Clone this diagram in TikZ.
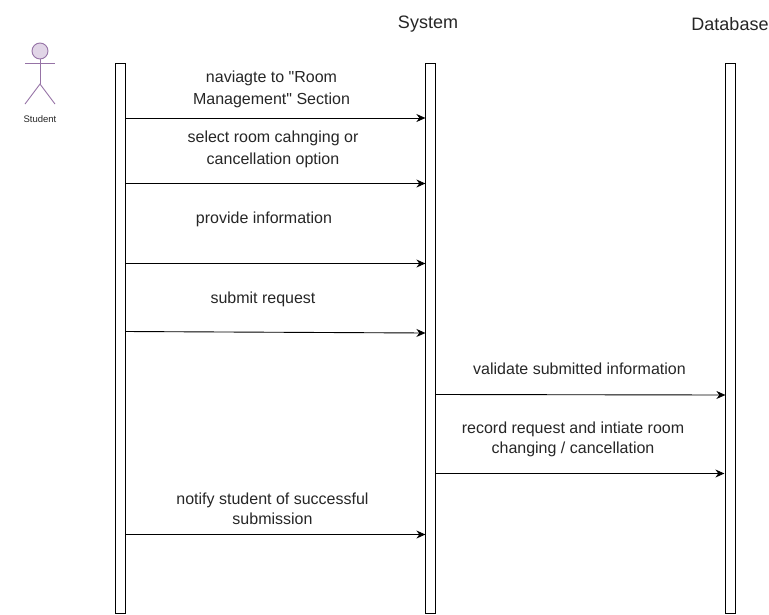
\documentclass[tikz,border=0pt]{standalone}
\usepackage{fontspec}
\setmainfont[Ligatures=TeXOff]{Liberation Sans}
\usetikzlibrary{arrows.meta}
\definecolor{actorfill}{HTML}{E1D5E7}
\definecolor{actorline}{HTML}{9673A6}
\tikzset{
  lifebar/.style={draw, line width=.9pt, minimum width=10pt, minimum height=550pt, inner sep=0pt, outer sep=0pt},
  msg/.style={draw, line width=.9pt, -{Stealth[length=9pt,width=8pt]}},
  msglabel/.style={align=center, font=\fontsize{16}{20.5}\selectfont, inner sep=0pt, text=black!85},
  widelabel/.style={msglabel, font=\fontsize{16}{22}\selectfont},
  titlelabel/.style={msglabel, font=\fontsize{18}{20}\selectfont},
  actorpart/.style={draw=actorline, line width=.9pt}
}
\begin{document}
\begin{tikzpicture}[x=1pt,y=-1pt]
  \useasboundingbox (0,0) rectangle (769,614);

  % lifelines
  \node[lifebar] (student) at (120.4,338) {};
  \node[lifebar] (system)  at (430.4,338) {};
  \node[lifebar] (database) at (730.4,338) {};

  \node[titlelabel] (systemtitle) at (428,24) {System};
  \node[titlelabel] (databasetitle) at (730,24) {Database};

  % actor
  \node[actorpart, fill=actorfill, circle, minimum size=16pt, inner sep=0pt, outer sep=0pt] (head) at (40,51) {};
  \coordinate (hip) at (40,84);
  \coordinate (armL) at (25,63);
  \coordinate (armR) at (55,63);
  \coordinate (legL) at (25,104);
  \coordinate (legR) at (55,104);
  \draw[actorpart] (head.south) -- (hip);
  \draw[actorpart] (armL) -- (armR);
  \draw[actorpart] (legL) -- (hip) -- (legR);
  \node[msglabel, font=\fontsize{9.5}{11}\selectfont] (studentname) at (40,119) {Student};

  % message heights
  \coordinate (m1) at (0,118);
  \coordinate (m2) at (0,183.5);
  \coordinate (m3) at (0,263.5);
  \coordinate (m4) at (0,331.5);
  \coordinate (m4b) at (0,333);
  \coordinate (m5) at (0,394.5);
  \coordinate (m5b) at (0,395);
  \coordinate (m6) at (0,473.5);
  \coordinate (m7) at (0,534.5);

  \draw[msg] (student.east |- m1) -- (system.west |- m1);
  \draw[msg] (student.east |- m2) -- (system.west |- m2);
  \draw[msg] (student.east |- m3) -- (system.west |- m3);
  \draw[msg] (student.east |- m4) -- (system.west |- m4b);
  \draw[msg] (system.east |- m5) -- (database.west |- m5b);
  \draw[msg] (system.east |- m6) -- ([xshift=-1pt]database.west |- m6);
  \draw[msg] (student.east |- m7) -- (system.west |- m7);

  % labels
  \node[widelabel] (navlabel) at (271.5,89.5) {naviagte to "Room\\Management" Section};
  \node[widelabel] (selectlabel) at (273,149.5) {select room cahnging or\\cancellation option};
  \node[msglabel] (providelabel) at (264,219) {provide information};
  \node[msglabel] (submitlabel) at (263,299) {submit request};
  \node[msglabel] (validatelabel) at (579.5,369) {validate submitted information};
  \node[msglabel] (recordlabel) at (573,439.5) {record request and intiate room\\changing / cancellation};
  \node[msglabel] (notifylabel) at (272.5,509) {notify student of successful\\submission};
\end{tikzpicture}
\end{document}
